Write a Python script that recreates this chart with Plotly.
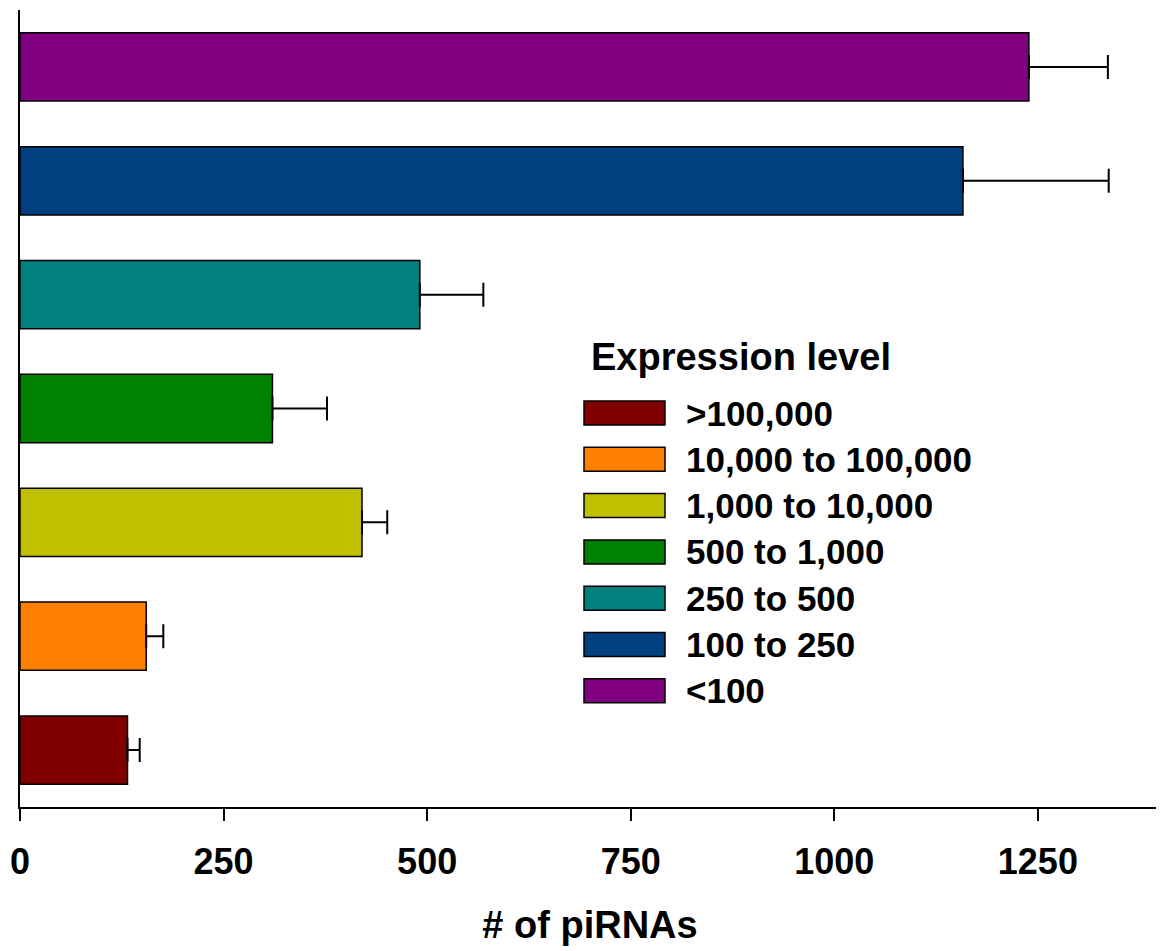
import plotly.graph_objects as go

levels = [">100,000", "10,000 to 100,000", "1,000 to 10,000", "500 to 1,000",
          "250 to 500", "100 to 250", "<100"]
counts = [132, 155, 420, 310, 491, 1158, 1239]
errors = [15, 21, 31, 67, 78, 179, 97]
colors = ["#800000", "#FF8000", "#C0C000", "#008000", "#008080", "#004080", "#800080"]
x_ticks = [0, 250, 500, 750, 1000, 1250]

FONT = "Liberation Sans, Arial, sans-serif"

fig = go.Figure()
fig.add_trace(go.Bar(
    x=counts, y=levels, orientation="h",
    marker=dict(color=colors, line=dict(color="black", width=1.5)),
    width=0.6,
    error_x=dict(type="data", array=errors, symmetric=False, arrayminus=[0]*len(errors),
                 color="black", thickness=2, width=12),
    showlegend=False,
))

W, H = 1164, 951
OFF = 8  # page body margin
ml, mr, mt, mb = 12, 12, 2, 152
pw, ph = W - ml - mr, H - mt - mb

def px2paper_x(px):
    return (px - OFF - ml) / pw

def px2paper_y(py):
    return 1 - (py - OFF - mt) / ph

# manual legend (top item = first level)
legend_x0, legend_x1 = 584, 665
row_y0 = 413
row_step = 46.3
shapes = []
annotations = []
annotations.append(dict(x=px2paper_x(589), y=px2paper_y(357), xref="paper", yref="paper",
                        text="<b>Expression level</b>", showarrow=False, xanchor="left",
                        yanchor="middle", xshift=0,
                        font=dict(family=FONT, size=38, color="black")))
for i, (lvl, col) in enumerate(zip(levels, colors)):
    cy = row_y0 + i * row_step
    shapes.append(dict(type="rect", xref="paper", yref="paper",
                       x0=px2paper_x(legend_x0), x1=px2paper_x(legend_x1),
                       y0=px2paper_y(cy - 12), y1=px2paper_y(cy + 12),
                       fillcolor=col, line=dict(color="black", width=1.5)))
    annotations.append(dict(x=px2paper_x(684), y=px2paper_y(cy), xref="paper", yref="paper",
                            text="<b>" + lvl + "</b>", showarrow=False, xanchor="left",
                            yanchor="middle", font=dict(family=FONT, size=35, color="black")))

fig.update_layout(
    width=W, height=H,
    margin=dict(l=ml, r=mr, t=mt, b=mb),
    paper_bgcolor="white", plot_bgcolor="white",
    shapes=shapes, annotations=annotations,
    xaxis=dict(range=[0, 1400], tickvals=x_ticks, ticktext=["<b>%d</b>" % v for v in x_ticks],
               ticks="outside", ticklen=12, tickwidth=2, tickcolor="black",
               showline=True, linecolor="black", linewidth=2, showgrid=False, zeroline=False,
               ticklabelstandoff=10,
               tickfont=dict(family=FONT, size=36, color="black"),
               automargin=False,
               title=dict(text="<b># of piRNAs</b>", font=dict(family=FONT, size=38, color="black"),
                          standoff=30)),
    yaxis=dict(categoryorder="array", categoryarray=levels, range=[-0.5, 6.5],
               showticklabels=False, ticks="", showline=True, linecolor="black", linewidth=2,
               showgrid=False, zeroline=False, automargin=False),
    bargap=0.4,
)

fig.write_html("out.html")
